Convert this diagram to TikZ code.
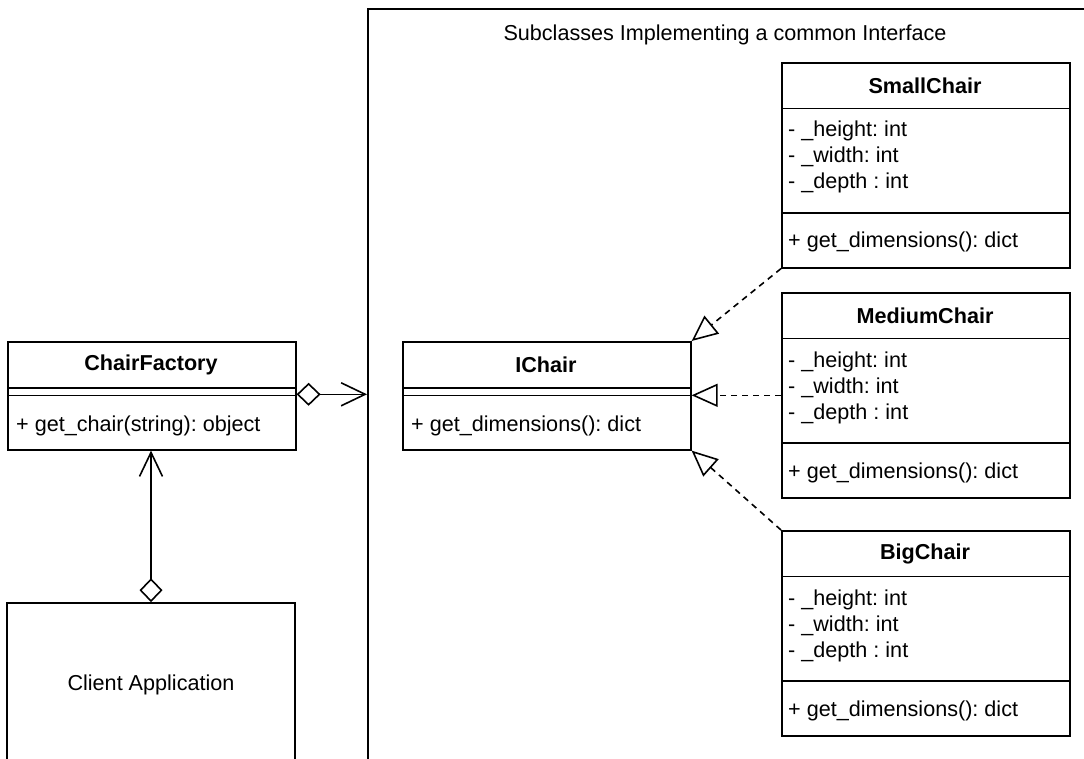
\documentclass[tikz,border=0pt]{standalone}
\usepackage{fontspec}
\setmainfont{Liberation Sans}
\usetikzlibrary{arrows.meta}
\frenchspacing
\begin{document}
\begin{tikzpicture}[x=1pt,y=-1pt,
  every node/.style={font=\fontsize{21.6}{25.9}\selectfont, inner sep=0pt},
  line/.style={line width=1.6pt},
  box/.style={draw, line width=1.6pt, fill=white, minimum width=288pt, inner sep=0pt},
  classbox/.style={box, minimum height=205pt, anchor=north west},
  smallbox/.style={box, minimum height=108pt, anchor=north west},
  ttl/.style={font=\fontsize{21.6}{25.9}\selectfont\bfseries},
  txt/.style={anchor=west, align=left},
  agg/.style={line width=1.6pt, {Diamond[fill=white,length=24pt,width=23pt]}-{Straight Barb[length=24pt,width=23pt]}},
  impl/.style={line width=1.6pt, dash pattern=on 6pt off 5pt, -{Triangle[fill=white,length=26pt,width=23pt,line join=miter]}},
]
\useasboundingbox (0,0) rectangle (1084,759);
\clip (0,0) rectangle (1084,759);

% container of the concrete classes
\node[draw, line width=1.6pt, minimum width=725pt, minimum height=800pt, anchor=north west] (group) at (367,8) {};
\node (grouptitle) at (725,35) {Subclasses Implementing a common Interface};

% ChairFactory
\node[smallbox] (cf) at (7,341) {};
\draw[line] (7,388) -- (295,388);
\draw[line] (7,395.5) -- (295,395.5);
\node[ttl] (cfname) at (151,364.5) {ChairFactory};
\node[txt] (cfop) at (16,426) {+ get\_chair(string): object};

% IChair
\node[smallbox] (ichair) at (402,341) {};
\draw[line] (402,388) -- (690,388);
\draw[line] (402,395.5) -- (690,395.5);
\node[ttl] (icname) at (546,364.5) {IChair};
\node[txt] (icop) at (411,426) {+ get\_dimensions(): dict};

% SmallChair
\node[classbox] (small) at (781,62) {};
\draw[line] (781,108.5) -- (1069,108.5);
\draw[line] (781,213) -- (1069,213);
\node[ttl] (scname) at (925,85.5) {SmallChair};
\node[txt] (scattr) at (788,157) {- \_height: int\\- \_width: int\\- \_depth : int};
\node[txt] (scop) at (788,242) {+ get\_dimensions(): dict};

% MediumChair
\node[classbox] (medium) at (781,292) {};
\draw[line] (781,338.5) -- (1069,338.5);
\draw[line] (781,443) -- (1069,443);
\node[ttl] (mcname) at (925,315.5) {MediumChair};
\node[txt] (mcattr) at (788,388) {- \_height: int\\- \_width: int\\- \_depth : int};
\node[txt] (mcop) at (788,473) {+ get\_dimensions(): dict};

% BigChair
\node[classbox] (big) at (781,530) {};
\draw[line] (781,576.5) -- (1069,576.5);
\draw[line] (781,681) -- (1069,681);
\node[ttl] (bcname) at (925,553.5) {BigChair};
\node[txt] (bcattr) at (788,626) {- \_height: int\\- \_width: int\\- \_depth : int};
\node[txt] (bcop) at (788,711) {+ get\_dimensions(): dict};

% client
\node[box, minimum height=164pt] (client) at (151,685) {Client Application};

% relations
\draw[agg] ([yshift=1.5pt]cf.east) -- ([yshift=1.5pt]cf.east -| group.west);
\draw[agg] (client.north) -- (client.north |- cf.south);
\draw[impl] (small.south west) -- (ichair.north east);
\draw[impl] (medium.west) -- (medium.west -| ichair.east);
\draw[impl] (big.north west) -- (ichair.south east);
\end{tikzpicture}
\end{document}
